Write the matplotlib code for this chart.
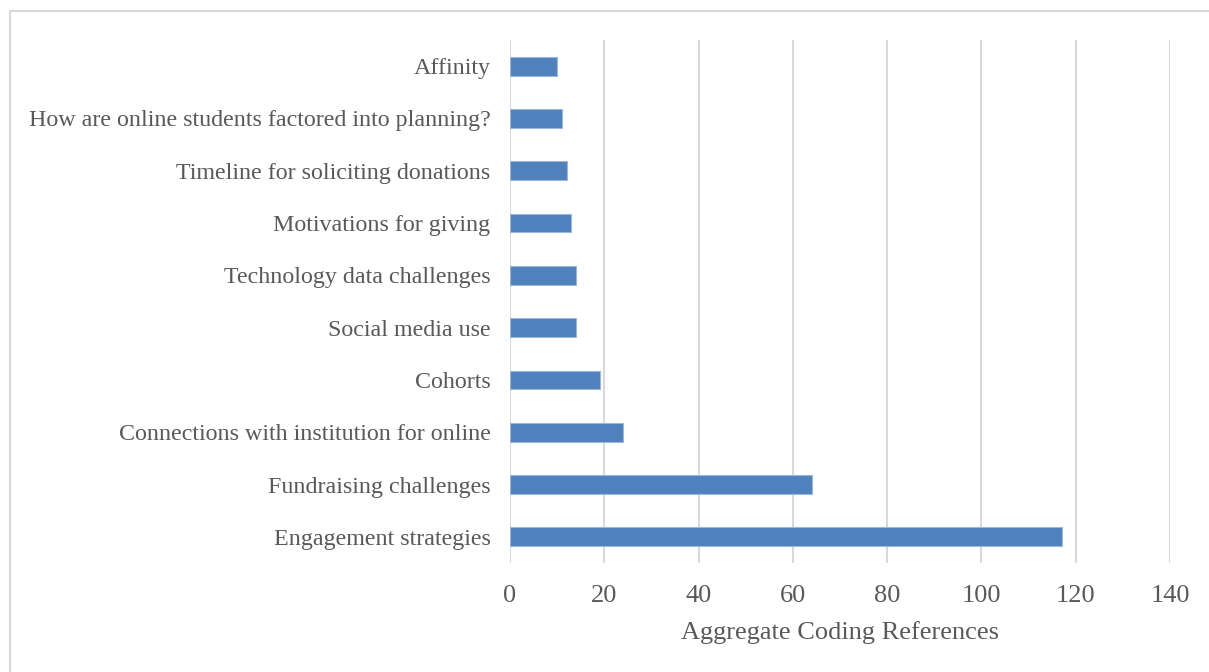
import matplotlib.pyplot as plt
from matplotlib.patches import Rectangle

# Coding themes, bottom to top as drawn
themes = ['Engagement strategies', 'Fundraising challenges',
          'Connections with institution for online', 'Cohorts',
          'Social media use', 'Technology data challenges',
          'Motivations for giving', 'Timeline for soliciting donations',
          'How are online students factored into planning?', 'Affinity']
references = [117, 64, 24, 19, 14, 14, 13, 12, 11, 10]
x_ticks = [0, 20, 40, 60, 80, 100, 120, 140]

plt.rcParams['font.family'] = ['Liberation Serif', 'DejaVu Serif']

fig = plt.figure(figsize=(12.09, 6.72), dpi=100)
ax = fig.add_axes([510 / 1209, 1 - 563 / 672, 660 / 1209, 523 / 672])

ax.barh(range(len(themes)), references, height=0.36, color='#4f81bd',
        edgecolor='#9bb7dc', linewidth=0.8, zorder=3)
ax.set_ylim(-0.5, len(themes) - 0.5)
ax.set_xlim(0, 140)
ax.set_xticks(x_ticks)
ax.set_yticks(range(len(themes)))
ax.set_yticklabels(themes)

ax.grid(axis='x', color='#d9d9d9', linewidth=1.5, zorder=0)
for s in ax.spines.values():
    s.set_visible(False)
ax.tick_params(axis='both', length=0, colors='#595959')
ax.tick_params(axis='x', pad=16, labelsize=19)
ax.tick_params(axis='y', pad=14, labelsize=17.3)
ax.set_xlabel('Aggregate Coding References', fontsize=19, color='#595959',
              labelpad=10)

# light frame around the chart area
fig.patches.append(Rectangle((10 / 1209, -0.05), 1.1, 1 - 11 / 672 + 0.05,
                             transform=fig.transFigure, fill=False,
                             edgecolor='#d9d9d9', linewidth=1.5))

fig.savefig('out.png', dpi=100, facecolor='white')
